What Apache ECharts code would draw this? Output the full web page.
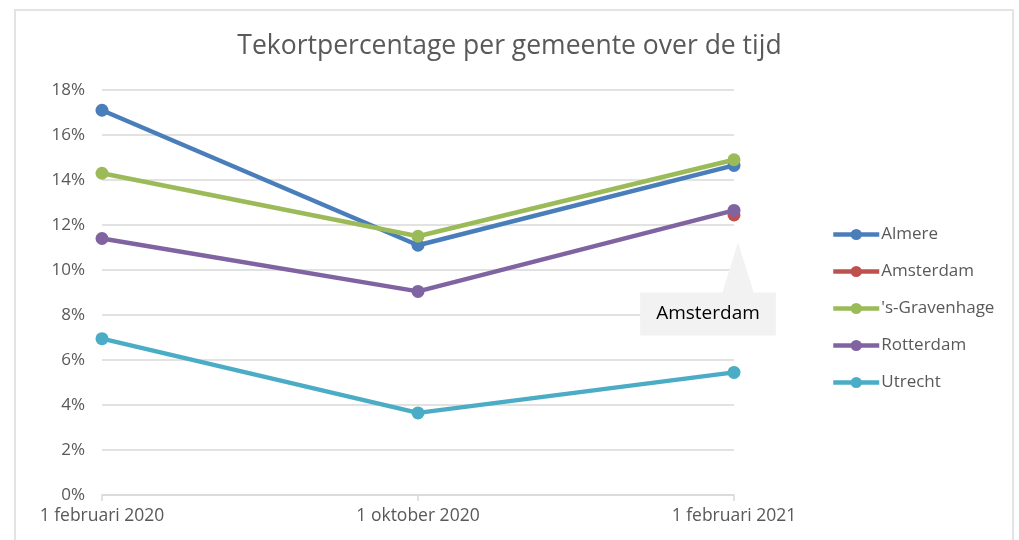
<!DOCTYPE html>
<html>
<head>
<meta charset="utf-8">
<script src="https://cdn.jsdelivr.net/npm/echarts@6/dist/echarts.min.js"></script>
<style>html,body{margin:0;padding:0;background:#fff;}#c{width:1019px;height:540px;}</style>
</head>
<body>
<div id="c"></div>
<script>
const categories = ['1 februari 2020', '1 oktober 2020', '1 februari 2021'];
const seriesNames = ['Almere', 'Amsterdam', "'s-Gravenhage", 'Rotterdam', 'Utrecht'];
const almere = [17.1, 11.1, 14.65];
const amsterdam = [null, null, 12.45];
const gravenhage = [14.3, 11.5, 14.9];
const rotterdam = [11.4, 9.05, 12.65];
const utrecht = [6.95, 3.65, 5.45];
const yTicks = [0, 2, 4, 6, 8, 10, 12, 14, 16, 18];
const colors = ['#4a7ebb', '#c0504d', '#9bbb59', '#8064a2', '#4bacc6'];
const values = [almere, amsterdam, gravenhage, rotterdam, utrecht];
const calloutText = 'Amsterdam';

const chart = echarts.init(document.getElementById('c'));
const font = '"Open Sans", "Noto Sans", sans-serif';

const series = seriesNames.map((name, i) => {
  const s = {
    name: name,
    type: 'line',
    data: values[i].slice(),
    symbol: 'circle',
    symbolSize: 13,
    lineStyle: { width: 4.5, color: colors[i] },
    itemStyle: { color: colors[i] },
    z: 2 + i
  };
  if (name === 'Amsterdam') {
    const last = values[i].length - 1;
    s.data = values[i].map((v, j) => j === last ? {
      value: v,
      label: {
        show: true,
        formatter: calloutText,
        position: 'inside',
        offset: [-26, 99],
        backgroundColor: '#f2f2f2',
        padding: [12, 16, 11, 16],
        color: '#000',
        fontSize: 19,
        lineHeight: 20,
        fontFamily: font
      }
    } : v);
    s.markPoint = {
      silent: true,
      data: [{ coord: [categories[last], values[i][last]] }],
      symbol: 'path://M16,0 L32,51 L0,51 Z',
      symbolSize: [32, 51],
      symbolOffset: [4, 53],
      itemStyle: { color: '#f2f2f2' },
      label: { show: false }
    };
  }
  return s;
});

chart.setOption({
  animation: false,
  backgroundColor: '#fff',
  graphic: [{
    type: 'rect',
    shape: { x: 15, y: 10, width: 998, height: 540 },
    style: { fill: 'none', stroke: '#e3e3e3', lineWidth: 2 },
    silent: true, z: -10
  }],
  title: {
    text: 'Tekortpercentage per gemeente over de tijd',
    left: 'center',
    top: 28,
    textStyle: { fontFamily: font, fontSize: 26.5, fontWeight: 'normal', color: '#595959' }
  },
  grid: { left: 102, right: 285, top: 90, bottom: 45 },
  legend: {
    orient: 'vertical',
    left: 826,
    top: 219,
    itemWidth: 46,
    itemHeight: 14,
    itemGap: 16,
    data: seriesNames,
    lineStyle: { width: 4.5 },
    itemStyle: { borderWidth: 0 },
    textStyle: { fontFamily: font, fontSize: 17, color: '#595959', lineHeight: 21, padding: [0, 0, 0, -3] }
  },
  xAxis: {
    type: 'category',
    data: categories,
    boundaryGap: false,
    axisLine: { lineStyle: { color: '#d9d9d9', width: 1.5 } },
    axisTick: { show: true, length: 6, lineStyle: { color: '#d9d9d9', width: 1.5 } },
    axisLabel: { fontFamily: font, fontSize: 17.5, color: '#595959', margin: 12 },
    splitLine: { show: false }
  },
  yAxis: {
    type: 'value',
    min: yTicks[0],
    max: yTicks[yTicks.length - 1],
    interval: yTicks[1] - yTicks[0],
    axisLine: { show: false },
    axisTick: { show: false },
    axisLabel: { formatter: v => v + '%', fontFamily: font, fontSize: 17, color: '#595959', margin: 17 },
    splitLine: { lineStyle: { color: '#d9d9d9', width: 1.5 } }
  },
  series: series
});
</script>
</body>
</html>
